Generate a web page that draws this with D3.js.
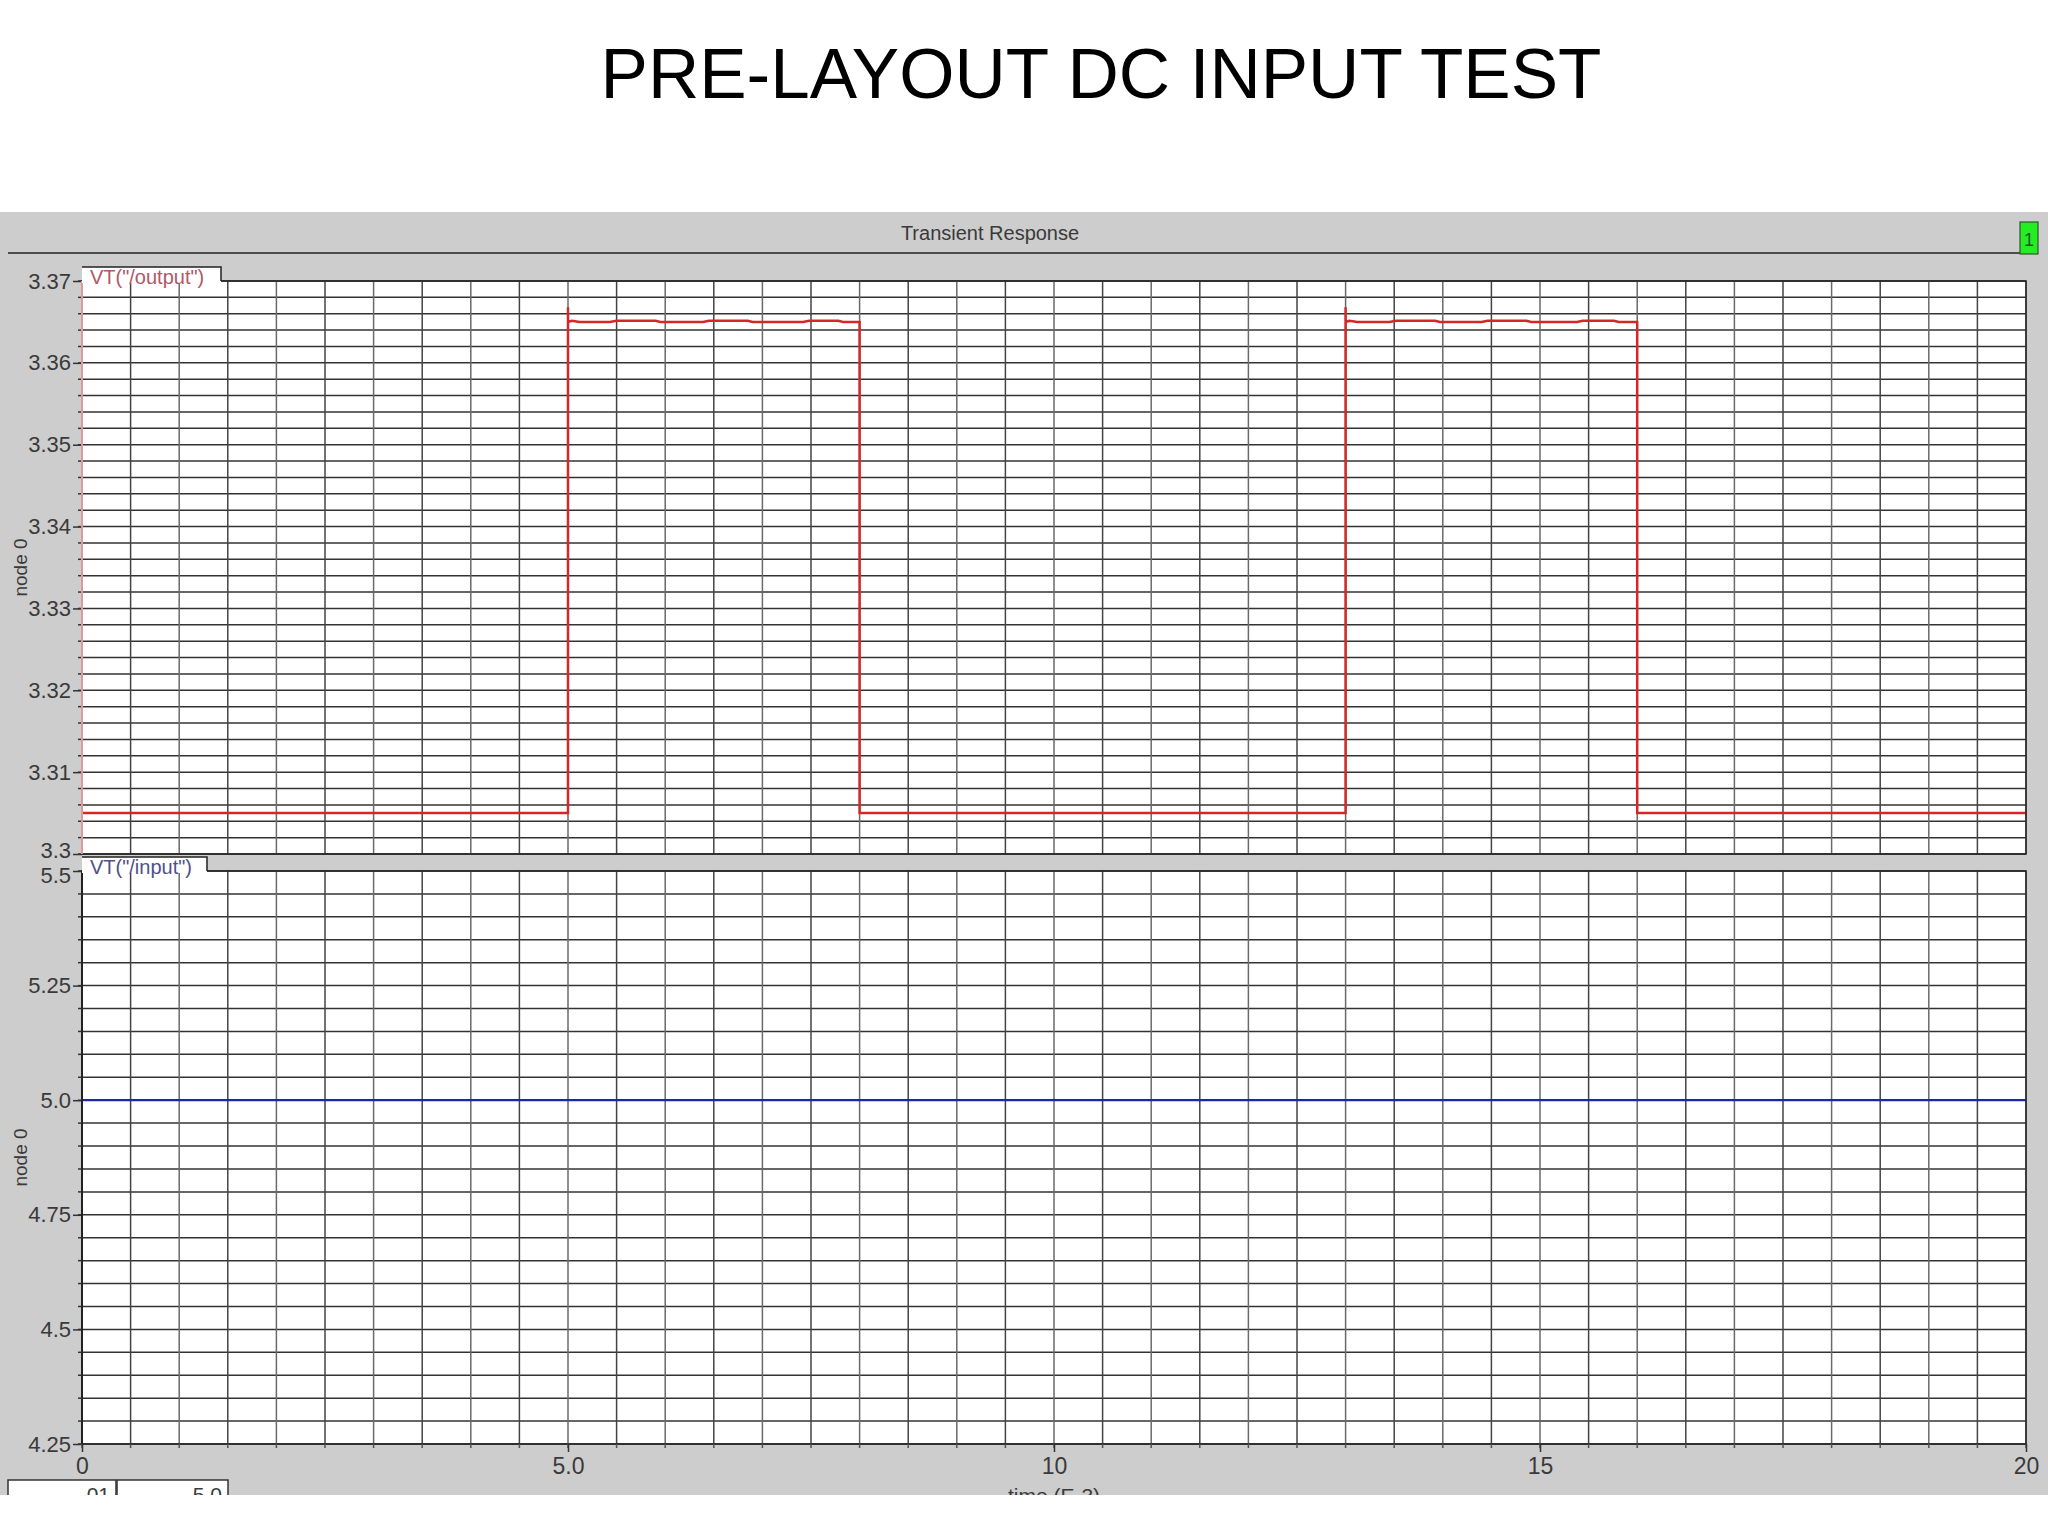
<!DOCTYPE html>
<html><head><meta charset="utf-8">
<script src="https://cdn.jsdelivr.net/npm/d3@7"></script>
<style>
html,body{margin:0;padding:0;background:#fff;}
svg{display:block;}
text{font-family:"Liberation Sans",Arial,sans-serif;}
</style></head>
<body>
<script>
// ---- data ----
const titleText = "PRE-LAYOUT DC INPUT TEST";
const panelTitle = "Transient Response";
const outputLabel = 'VT("/output")';
const inputLabel = 'VT("/input")';
const xAxisLabel = "time (E-3)";
const yAxisLabel = "node 0";
const xTicks = [0, 5, 10, 15, 20];
const xTickLabels = ["0", "5.0", "10", "15", "20"];
const topYTicks = [3.30, 3.31, 3.32, 3.33, 3.34, 3.35, 3.36, 3.37];
const topYTickLabels = ["3.3", "3.31", "3.32", "3.33", "3.34", "3.35", "3.36", "3.37"];
const botYTicks = [4.25, 4.5, 4.75, 5.0, 5.25, 5.5];
const botYTickLabels = ["4.25", "4.5", "4.75", "5.0", "5.25", "5.5"];
const outputTime = [0, 5.0, 5.0, 5.0, 5.04, 5.12, 5.43, 5.5, 5.9, 5.95, 6.39, 6.45, 6.85, 6.9, 7.42, 7.48, 7.78, 7.83, 8.0, 8.0,
                    13.0, 13.0, 13.0, 13.04, 13.12, 13.45, 13.52, 13.92, 13.97, 14.4, 14.46, 14.86, 14.91, 15.38, 15.44, 15.76, 15.81, 16.0, 16.0, 20];
const outputVolt = [3.305, 3.305, 3.3668, 3.365, 3.36515, 3.365, 3.365, 3.36515, 3.36515, 3.365, 3.365, 3.36515, 3.36515, 3.365, 3.365, 3.36515, 3.36515, 3.365, 3.365, 3.305,
                    3.305, 3.3668, 3.365, 3.36515, 3.365, 3.365, 3.36515, 3.36515, 3.365, 3.365, 3.36515, 3.36515, 3.365, 3.365, 3.36515, 3.36515, 3.365, 3.365, 3.305, 3.305];
const inputTime = [0, 20];
const inputVolt = [5.0, 5.0];
const badge = "1";
const fieldValues = ["01", "5.0"];

// ---- layout ----
const W = 2048, H = 1536;
const svg = d3.select("body").append("svg").attr("width", W).attr("height", H);
const gray = "#cdcdcd", gridCol = "#333", txtCol = "#3a3a3a";
const L = 82, R = 2026;
const panelTop = 212, panelBot = 1495;

svg.append("text").attr("x", 1101).attr("y", 98).attr("text-anchor", "middle")
  .attr("font-size", 71).attr("fill", "#000").text(titleText);

svg.append("defs").append("clipPath").attr("id", "panelClip")
  .append("rect").attr("x", 0).attr("y", panelTop).attr("width", W).attr("height", panelBot - panelTop);

const panel = svg.append("g").attr("clip-path", "url(#panelClip)");
panel.append("rect").attr("x", 0).attr("y", panelTop).attr("width", W).attr("height", panelBot - panelTop).attr("fill", gray);
panel.append("text").attr("x", 990).attr("y", 240).attr("text-anchor", "middle").attr("font-size", 20)
  .attr("fill", txtCol).text(panelTitle);
panel.append("line").attr("x1", 8).attr("x2", 2020).attr("y1", 253).attr("y2", 253).attr("stroke", "#222").attr("stroke-width", 1.5);
panel.append("rect").attr("x", 2020).attr("y", 222).attr("width", 18).attr("height", 32).attr("fill", "#22ee22").attr("stroke", "#335533").attr("stroke-width", 1.2);
panel.append("text").attr("x", 2029).attr("y", 246).attr("text-anchor", "middle").attr("font-size", 18).attr("fill", "#225522").text(badge);

const x = d3.scaleLinear().domain([0, 20]).range([L, R]);
const yTop = d3.scaleLinear().domain([3.30, 3.37]).range([854, 281]);
const yBot = d3.scaleLinear().domain([4.25, 5.5]).range([1444, 871]);

function drawPlot(y, yTicks, yLabels, minorStep, label, labelCol, labelW, tracesFn, leftCol, edgeShift) {
  const [y0, y1] = y.range();
  const [d0, d1] = y.domain();
  const g = panel.append("g");
  g.append("rect").attr("x", L).attr("y", y1).attr("width", R - L).attr("height", y0 - y1).attr("fill", "#fff");
  // horizontal grid (minor+major)
  const hVals = d3.range(Math.round((d1 - d0) / minorStep) + 1).map(i => d0 + i * minorStep);
  g.selectAll(".hg").data(hVals).join("line")
    .attr("x1", L).attr("x2", R).attr("y1", d => y(d)).attr("y2", d => y(d))
    .attr("stroke", gridCol).attr("stroke-width", 1.5);
  // vertical grid every 0.5
  const vVals = d3.range(41).map(i => i * 0.5);
  g.selectAll(".vg").data(vVals).join("line")
    .attr("x1", d => x(d)).attr("x2", d => x(d)).attr("y1", y1).attr("y2", y0)
    .attr("stroke", (d, i) => i % 2 ? "#444" : "#6a6a6a").attr("stroke-width", 1.5);
  // left minor ticks
  g.selectAll(".lt").data(hVals).join("line")
    .attr("x1", L - 4).attr("x2", L).attr("y1", d => y(d)).attr("y2", d => y(d))
    .attr("stroke", gridCol).attr("stroke-width", 1.5);
  // y axis labels
  const ax = d3.axisLeft(y).tickValues(yTicks).tickFormat((d, i) => yLabels[i]).tickSize(9).tickPadding(2);
  const axg = g.append("g").attr("transform", `translate(${L},0)`).call(ax);
  axg.select(".domain").remove();
  axg.selectAll(".tick line").attr("stroke", gridCol).attr("stroke-width", 1.5);
  axg.selectAll(".tick text").attr("font-size", 22).attr("fill", txtCol)
    .attr("font-family", '"Liberation Sans",Arial,sans-serif')
    .attr("transform", (d, i) => edgeShift(i, yTicks.length));
  // traces
  tracesFn(g);
  // frame
  g.append("rect").attr("x", L).attr("y", y1).attr("width", R - L).attr("height", y0 - y1)
    .attr("fill", "none").attr("stroke", "#222").attr("stroke-width", 1.5);
  g.append("line").attr("x1", L).attr("x2", L).attr("y1", y1).attr("y2", y0).attr("stroke", leftCol).attr("stroke-width", 2);
  // label tab
  g.append("rect").attr("x", L).attr("y", y1 - 14).attr("width", labelW).attr("height", 16).attr("fill", "#fff");
  g.append("path").attr("d", `M${L},${y1 - 14}H${L + labelW}V${y1}`).attr("fill", "none").attr("stroke", "#222").attr("stroke-width", 1.5);
  g.append("text").attr("x", L + 8).attr("y", y1 + 3).attr("font-size", 20).attr("fill", labelCol).text(label);
  // y axis title
  g.append("text").attr("transform", `translate(27,${(y0 + y1) / 2}) rotate(-90)`)
    .attr("text-anchor", "middle").attr("font-size", 19).attr("fill", txtCol).text(yAxisLabel);
}

drawPlot(yTop, topYTicks, topYTickLabels, 0.002, outputLabel, "#b05868", 139, g => {
  const pts = outputTime.map((t, i) => [t, outputVolt[i]]);
  g.append("path").datum(pts)
    .attr("d", d3.line().x(d => x(d[0])).y(d => yTop(d[1])))
    .attr("fill", "none").attr("stroke", "#d42828").attr("stroke-width", 2.5);
}, "#dd9a9a", (i, n) => i === 0 ? "translate(0,-4)" : null);

drawPlot(yBot, botYTicks, botYTickLabels, 0.05, inputLabel, "#50508a", 125, g => {
  const pts = inputTime.map((t, i) => [t, inputVolt[i]]);
  g.append("path").datum(pts)
    .attr("d", d3.line().x(d => x(d[0])).y(d => yBot(d[1])))
    .attr("fill", "none").attr("stroke", "#1a2aa0").attr("stroke-width", 2.2);
}, "#222", (i, n) => i === n - 1 ? "translate(0,4)" : null);

// x axis ticks below bottom plot
const xMinor = d3.range(41).map(i => i * 0.5);
panel.selectAll(".xm").data(xMinor).join("line")
  .attr("x1", d => x(d)).attr("x2", d => x(d)).attr("y1", 1444).attr("y2", 1448)
  .attr("stroke", "#555").attr("stroke-width", 1.5);
const xAx = d3.axisBottom(x).tickValues(xTicks).tickFormat((d, i) => xTickLabels[i]).tickSize(8).tickPadding(6);
const xg = panel.append("g").attr("transform", "translate(0,1444)").call(xAx);
xg.select(".domain").remove();
xg.selectAll(".tick line").attr("stroke", "#333").attr("stroke-width", 1.5);
xg.selectAll(".tick text").attr("font-size", 23).attr("fill", txtCol).attr("font-family", '"Liberation Sans",Arial,sans-serif');
panel.append("text").attr("x", x(10)).attr("y", 1503).attr("text-anchor", "middle").attr("font-size", 21).attr("fill", txtCol).text(xAxisLabel);

// bottom fields
const fields = [[8, 108], [117, 111]];
fields.forEach((f, i) => {
  panel.append("rect").attr("x", f[0]).attr("y", 1480).attr("width", f[1]).attr("height", 30).attr("fill", "#fff").attr("stroke", "#333").attr("stroke-width", 1.5);
  panel.append("text").attr("x", f[0] + f[1] - 6).attr("y", 1502).attr("text-anchor", "end").attr("font-size", 21).attr("fill", txtCol).text(fieldValues[i]);
});
</script>
</body></html>
